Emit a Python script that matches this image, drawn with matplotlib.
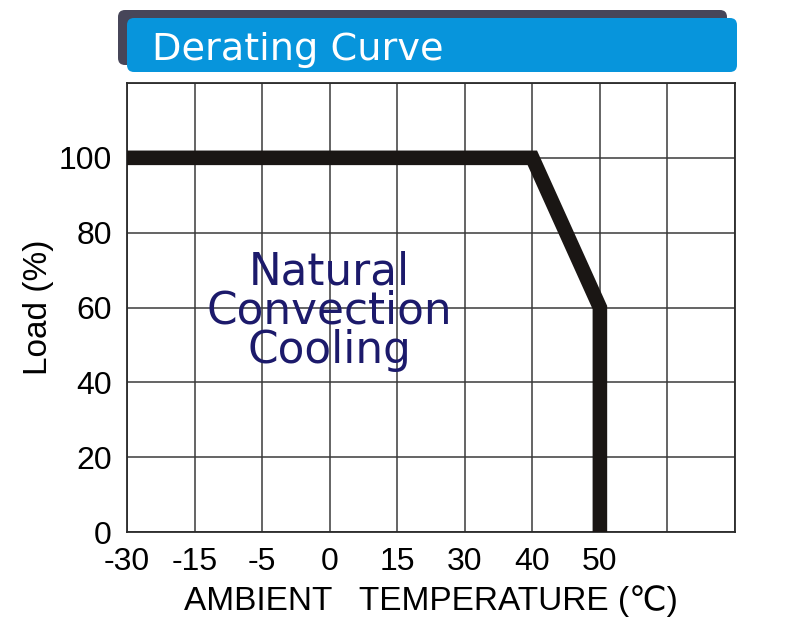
import matplotlib
matplotlib.use("Agg")
import matplotlib.pyplot as plt
from matplotlib.patches import FancyBboxPatch

# DATA
temp_ticks = ["-30", "-15", "-5", "0", "15", "30", "40", "50"]
n_columns = 9
load_ticks = [0, 20, 40, 60, 80, 100]
curve_temp = ["-30", "40", "50", "50"]
curve_load = [100, 100, 60, 0]
title = "Derating Curve"
note = "Natural\nConvection\nCooling"

plt.rcParams['font.family'] = ['Liberation Sans', 'DejaVu Sans']

fig = plt.figure(figsize=(7.86, 6.28), dpi=100)

# header banner (pixel coordinates)
bg = fig.add_axes([0, 0, 1, 1], zorder=0)
bg.set_xlim(0, 786)
bg.set_ylim(628, 0)
bg.axis("off")
bg.add_patch(FancyBboxPatch((118, 10), 609, 55, boxstyle="round,pad=0,rounding_size=7",
                            fc="#474659", ec="none"))
bg.add_patch(FancyBboxPatch((127, 18), 610, 54, boxstyle="round,pad=0,rounding_size=7",
                            fc="#0795dc", ec="none"))
bg.text(152, 60, title, color="white", fontsize=27.5, va="baseline", ha="left",
        family="DejaVu Sans")

ax = fig.add_axes([127 / 786, 96 / 628, 608 / 786, 449 / 628], zorder=1)
ax.patch.set_alpha(0)

xpos = [temp_ticks.index(t) for t in curve_temp]
ax.plot(xpos, curve_load, color="#1a1614", lw=10.5, solid_joinstyle="miter",
        solid_capstyle="butt", zorder=3)

ax.set_xlim(0, n_columns)
ax.set_ylim(0, 120)
ax.set_xticks(range(n_columns + 1))
ax.set_xticklabels(temp_ticks + [""] * (n_columns + 1 - len(temp_ticks)))
ax.set_yticks(load_ticks + [120])
ax.set_yticklabels([str(v) for v in load_ticks] + [""])
ax.grid(True, color="#3a3a3a", lw=1.1)
ax.tick_params(length=0, labelsize=23)
ax.tick_params(axis="x", pad=11)
ax.tick_params(axis="y", pad=11)
for s in ax.spines.values():
    s.set_color("#2a2a2a")
    s.set_linewidth(1.3)

ax.set_xlabel("AMBIENT   TEMPERATURE (\u2103)", fontsize=24, labelpad=6)
ax.set_ylabel("Load (%)", fontsize=24, labelpad=3)

ax.text(3.0, 59.0, note, color="#1c1a6b", fontsize=31.5, ha="center", va="center",
        linespacing=0.88, zorder=4, family="DejaVu Sans")

fig.savefig("out.png", dpi=100)
